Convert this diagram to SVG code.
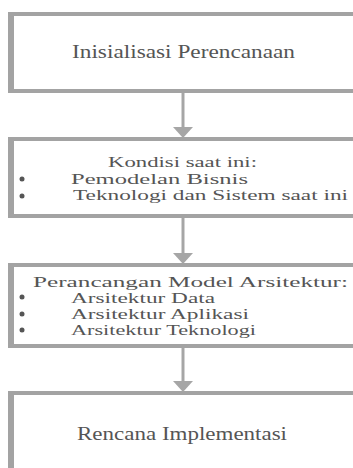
<svg xmlns="http://www.w3.org/2000/svg" width="353" height="468" viewBox="0 0 353 468">
<style>
.box{fill:#ffffff;stroke:#a3a3a3;stroke-width:4}
.lbar{fill:#a3a3a3}
.t{font-family:"Liberation Serif","Times New Roman",serif;fill:#555555}
.h{font-size:18px}
.l{font-size:15px}
.conn line{stroke:#a6a6a6;stroke-width:3}
.conn polygon{fill:#a6a6a6}
.bul{fill:#555555}
</style>
<g id="node1">
<rect class="box" x="11" y="14" width="360" height="77"/>
<rect class="lbar" x="8" y="12" width="6" height="81"/>
<text class="t h" x="72" y="58" textLength="223" lengthAdjust="spacingAndGlyphs">Inisialisasi Perencanaan</text>
</g>
<g id="node2">
<rect class="box" x="11" y="139" width="360" height="77"/>
<rect class="lbar" x="8" y="137" width="6" height="81"/>
<text class="t l" x="108" y="167" textLength="149" lengthAdjust="spacingAndGlyphs">Kondisi saat ini:</text>
<circle class="bul" cx="22" cy="179" r="2.5"/>
<text class="t l" x="71" y="184" textLength="177" lengthAdjust="spacingAndGlyphs">Pemodelan Bisnis</text>
<circle class="bul" cx="22" cy="196" r="2.5"/>
<text class="t l" x="73" y="200" textLength="275" lengthAdjust="spacingAndGlyphs">Teknologi dan Sistem saat ini</text>
</g>
<g id="node3">
<rect class="box" x="11" y="265" width="360" height="81"/>
<rect class="lbar" x="8" y="263" width="6" height="85"/>
<text class="t l" x="33" y="287" textLength="315" lengthAdjust="spacingAndGlyphs">Perancangan Model Arsitektur:</text>
<circle class="bul" cx="22" cy="297" r="2.5"/>
<text class="t l" x="71" y="303" textLength="144" lengthAdjust="spacingAndGlyphs">Arsitektur Data</text>
<circle class="bul" cx="22" cy="314" r="2.5"/>
<text class="t l" x="71" y="319" textLength="178" lengthAdjust="spacingAndGlyphs">Arsitektur Aplikasi</text>
<circle class="bul" cx="22" cy="330" r="2.5"/>
<text class="t l" x="71" y="335" textLength="185" lengthAdjust="spacingAndGlyphs">Arsitektur Teknologi</text>
</g>
<g id="node4">
<rect class="box" x="11" y="393" width="360" height="90"/>
<rect class="lbar" x="8" y="391" width="6" height="90"/>
<text class="t h" x="77" y="440" textLength="210" lengthAdjust="spacingAndGlyphs">Rencana Implementasi</text>
</g>
<g id="connectors" class="conn">
<line x1="183" y1="93" x2="183" y2="128"/>
<polygon points="173,127 193,127 183,138"/>
<line x1="183" y1="218" x2="183" y2="254"/>
<polygon points="173,253 193,253 183,264"/>
<line x1="183" y1="348" x2="183" y2="382"/>
<polygon points="173,381 193,381 183,392"/>
</g>
</svg>
